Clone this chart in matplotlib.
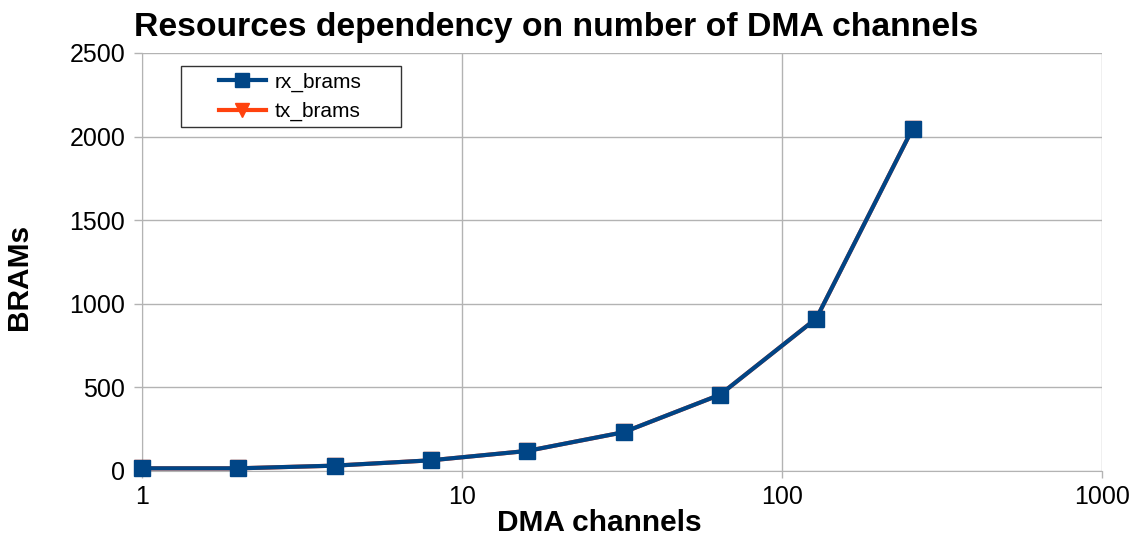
import numpy as np
import matplotlib
matplotlib.use('Agg')
import matplotlib.pyplot as plt
from matplotlib.ticker import FixedLocator, FixedFormatter, NullLocator
from matplotlib.legend_handler import HandlerLine2D

plt.rcParams['font.family'] = ['Liberation Sans', 'DejaVu Sans']

# DMA channel counts and BRAM usage
channels = [1, 2, 4, 8, 16, 32, 64, 128, 256]
rx_brams = [16, 16, 32, 64, 120, 232, 456, 912, 2048]
tx_brams = [16, 16, 32, 64, 120, 232, 456, 912, 2048]
x_ticks = [1, 10, 100, 1000]
y_ticks = [0, 500, 1000, 1500, 2000, 2500]

W, H = 1143, 538
fig = plt.figure(figsize=(W/100, H/100), dpi=100)
ax = fig.add_axes([142/W, 67/H, 960/W, 418/H])

# tx lies exactly under rx
ax.plot(channels, tx_brams, color='#ff420e', lw=3, marker='v', ms=11.5, label='tx_brams',
        zorder=3, clip_on=False)
ax.plot(channels, rx_brams, color='#004586', lw=3, marker='s', ms=11.5, label='rx_brams',
        zorder=4, clip_on=False)

ax.set_xscale('log')
ax.set_xlim(1, 1000)
ax.set_ylim(0, 2500)
ax.xaxis.set_major_locator(FixedLocator(x_ticks))
ax.xaxis.set_major_formatter(FixedFormatter([str(t) for t in x_ticks]))
ax.xaxis.set_minor_locator(NullLocator())
ax.set_yticks(y_ticks)

ax.grid(True, color='#b3b3b3', lw=1)
ax.set_axisbelow(True)
for s in ['top', 'right']:
    ax.spines[s].set_visible(False)
for s in ['left', 'bottom']:
    ax.spines[s].set_color('#b3b3b3')
ax.tick_params(axis='both', labelsize=18, color='#b3b3b3', width=1, direction='out')
ax.tick_params(axis='y', length=6, pad=6)
ax.tick_params(axis='x', length=5, pad=5)

ax.set_xlabel('DMA channels', fontsize=21.5, fontweight='bold', va='baseline')
ax.xaxis.set_label_coords(457/960, -60/418)
ax.set_ylabel('BRAMs', fontsize=21.5, fontweight='bold', va='baseline')
ax.yaxis.set_label_coords(-115/960, 194.5/418)
fig.text(134/W, 1 - 36/H, 'Resources dependency on number of DMA channels',
         fontsize=24.3, fontweight='bold', va='baseline', ha='left')

handles, labels = ax.get_legend_handles_labels()
leg = ax.legend(handles[::-1], labels[::-1], loc='upper left',
                bbox_to_anchor=(39/960, 1 - 13/418 - 0.01, 220/960, 0.01), mode='expand',
                borderaxespad=0, fontsize=15, frameon=True, fancybox=False, edgecolor='black',
                handlelength=3.8, handletextpad=0.4, borderpad=0.3, labelspacing=0.5,
                markerscale=0.85,
                handler_map={h: HandlerLine2D(xpad=1.5) for h in handles})
leg.get_frame().set_linewidth(1)

fig.savefig('out.png', dpi=100)
